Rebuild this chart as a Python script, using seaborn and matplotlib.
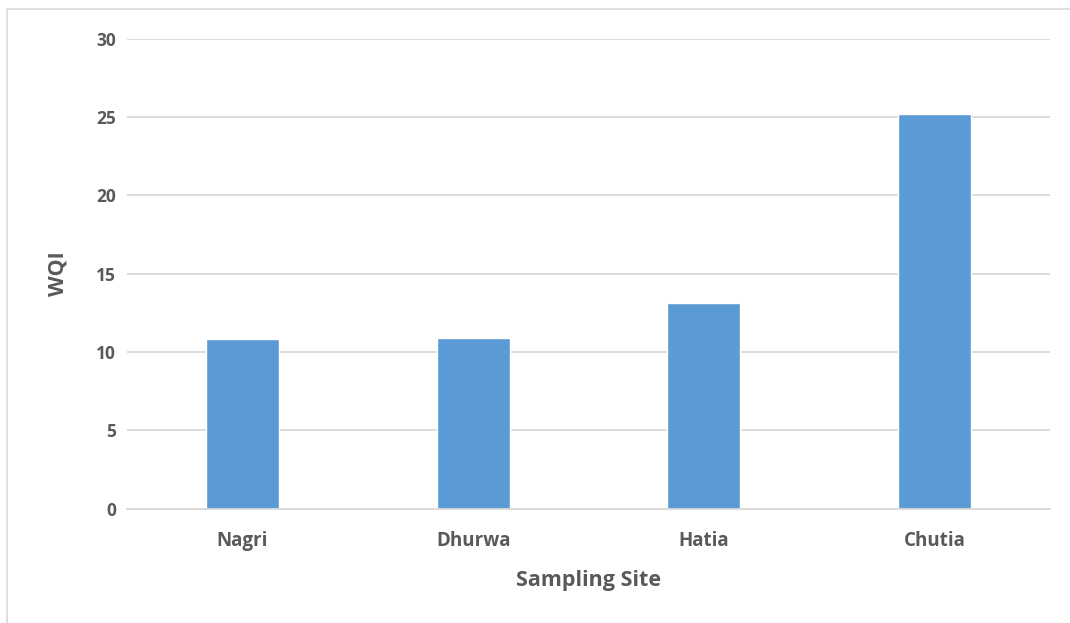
import matplotlib
matplotlib.use("Agg")
import matplotlib.pyplot as plt
import seaborn as sns
import pandas as pd
from matplotlib.patches import Rectangle

sites = ["Nagri", "Dhurwa", "Hatia", "Chutia"]
wqi = [10.8, 10.9, 13.1, 25.2]
y_ticks = [0, 5, 10, 15, 20, 25, 30]

sns.set_theme(style="white")
plt.rcParams["font.family"] = ["Open Sans", "DejaVu Sans"]

text_color = "#595959"
grid_color = "#D9D9D9"
bar_color = "#5B9BD5"

df = pd.DataFrame({"site": sites, "wqi": wqi})

fig = plt.figure(figsize=(10.70, 6.23), dpi=100)
ax = fig.add_axes([127 / 1070, 1 - 508.7 / 623, (1050 - 127) / 1070, (508.7 - 38.5) / 623])

sns.barplot(data=df, x="site", y="wqi", color=bar_color, width=0.316,
            saturation=1, ax=ax, zorder=3)

ax.set_ylim(0, 30)
ax.set_yticks(y_ticks)
ax.set_yticklabels([str(t) for t in y_ticks], fontsize=12.5, fontweight="bold", color=text_color)
ax.set_xticks(range(len(sites)))
ax.set_xticklabels(sites, fontsize=13.5, fontweight="bold", color=text_color)
ax.tick_params(axis="both", length=0)
ax.tick_params(axis="y", pad=8)
ax.tick_params(axis="x", pad=16)

ax.yaxis.grid(True, color=grid_color, linewidth=1.3, zorder=0)
ax.xaxis.grid(False)
for s in ["top", "right", "left"]:
    ax.spines[s].set_visible(False)
ax.spines["bottom"].set_color(grid_color)
ax.spines["bottom"].set_linewidth(1.3)
ax.spines["bottom"].set_zorder(4)

ax.set_xlabel("Sampling Site", fontsize=15.5, fontweight="bold", color=text_color, labelpad=14)
ax.set_ylabel("WQI", fontsize=15.5, fontweight="bold", color=text_color, labelpad=20)

# light frame around the chart area
fig.patches.append(Rectangle((7 / 1070, -0.05), 1.2, 1 - 9 / 623 + 0.05,
                             transform=fig.transFigure, fill=False,
                             edgecolor="#D9D9D9", linewidth=1.2))

fig.savefig("out.png", dpi=100)
